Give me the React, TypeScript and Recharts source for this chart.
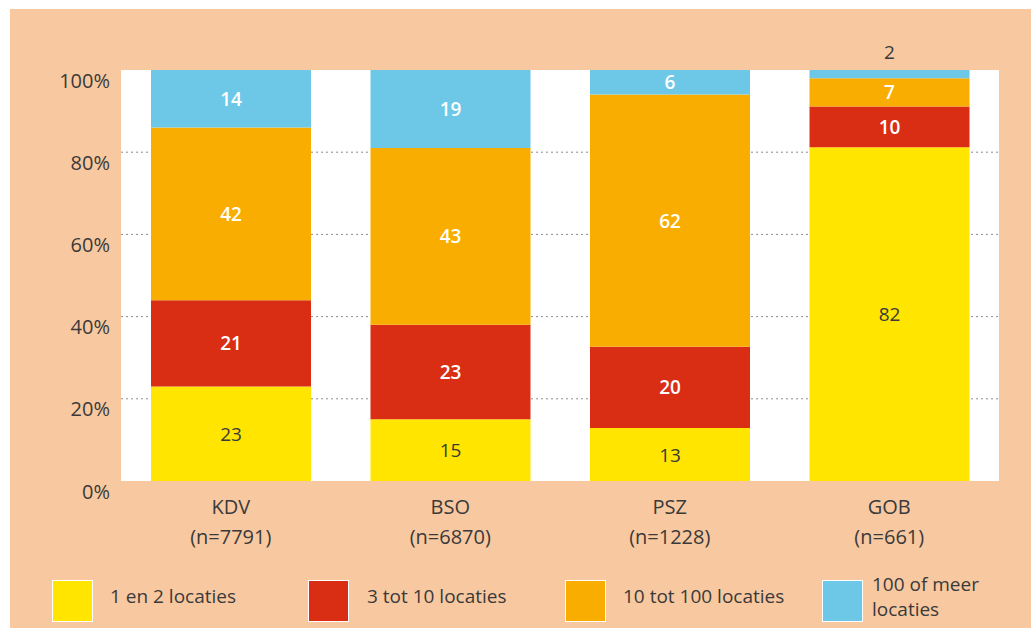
import React from 'react';
import { BarChart, Bar, XAxis, YAxis, CartesianGrid, LabelList } from 'recharts';

document.body.style.margin = '0';

const categories = ['KDV', 'BSO', 'PSZ', 'GOB'];
const sampleSizes = [7791, 6870, 1228, 661];
const oneTwo = [23, 15, 13, 82];
const threeToTen = [21, 23, 20, 10];
const tenToHundred = [42, 43, 62, 7];
const hundredPlus = [14, 19, 6, 2];
const yTicks = [0, 0.2, 0.4, 0.6, 0.8, 1];
const gridValues = [0.2, 0.4, 0.6, 0.8];

const series = [
  { key: 'oneTwo', name: '1 en 2 locaties', color: '#FFE500', text: '#3a3a3a' },
  { key: 'threeToTen', name: '3 tot 10 locaties', color: '#D92E14', text: '#ffffff' },
  { key: 'tenToHundred', name: '10 tot 100 locaties', color: '#F9AD00', text: '#ffffff' },
  { key: 'hundredPlus', name: '100 of meer\nlocaties', color: '#6DC8E7', text: '#ffffff' },
];

const data = categories.map((name, i) => ({
  name,
  oneTwo: oneTwo[i],
  threeToTen: threeToTen[i],
  tenToHundred: tenToHundred[i],
  hundredPlus: hundredPlus[i],
}));

const FONT = '"Open Sans", sans-serif';
const PEACH = '#F8C8A0';
const INK = '#3a3a3a';

const makeLabel = (color: string) => (props: any) => {
  const { x, y, width, height, value } = props;
  const cx = x + width / 2;
  if (height < 16) {
    // tiny segment: value goes above the bar
    return (
      <text x={cx} y={y - 18} textAnchor="middle" dominantBaseline="central" fill={INK} fontSize={19} fontFamily={FONT}>
        {value}
      </text>
    );
  }
  return (
    <text
      x={cx}
      y={y + height / 2}
      textAnchor="middle"
      dominantBaseline="central"
      fill={color}
      fontSize={19}
      fontFamily={FONT}
      fontWeight={color === '#ffffff' ? 600 : 400}
    >
      {value}
    </text>
  );
};

const YTick = (props: any) => {
  const { x, y, payload } = props;
  return (
    <text x={x} y={y} dy={10} textAnchor="end" dominantBaseline="central" fill={INK} fontSize={20} fontFamily={FONT}>
      {`${Math.round(payload.value * 100)}%`}
    </text>
  );
};

const XTick = (props: any) => {
  const { x, y, payload, index } = props;
  return (
    <g>
      <text x={x} y={y} dy={17} textAnchor="middle" dominantBaseline="central" fill={INK} fontSize={20} fontFamily={FONT}>
        {payload.value}
      </text>
      <text x={x} y={y} dy={47} textAnchor="middle" dominantBaseline="central" fill={INK} fontSize={20} fontFamily={FONT}>
        {`(n=${sampleSizes[index]})`}
      </text>
    </g>
  );
};

const legendSquareLeft = [52, 308, 565, 822];
const legendTextLeft = [110, 367, 623, 872];

export default function App() {
  return (
    <div style={{ position: 'relative', width: 1031, height: 628, background: '#fff', overflow: 'hidden', fontFamily: FONT }}>
      <div style={{ position: 'absolute', left: 10, top: 9, right: 0, bottom: 0, background: PEACH }} />
      <div style={{ position: 'absolute', left: 0, top: 0 }}>
        <BarChart
          width={1031}
          height={628}
          data={data}
          stackOffset="expand"
          margin={{ top: 70, right: 32, left: 61, bottom: 77 }}
        >
          <CartesianGrid
            vertical={false}
            fill="#ffffff"
            fillOpacity={1}
            stroke="#8c8c8c"
            strokeDasharray="2 3"
            horizontalValues={gridValues}
          />
          <XAxis dataKey="name" axisLine={false} tickLine={false} height={70} tick={<XTick />} interval={0} />
          <YAxis
            width={60}
            domain={[0, 1]}
            ticks={yTicks}
            axisLine={false}
            tickLine={false}
            tickSize={0}
            tickMargin={11}
            tick={<YTick />}
          />
          {series.map((s) => (
            <Bar key={s.key} dataKey={s.key} name={s.name} stackId="a" fill={s.color} barSize={160} isAnimationActive={false}>
              <LabelList dataKey={s.key} content={makeLabel(s.text)} />
            </Bar>
          ))}
        </BarChart>
      </div>
      {series.map((s, i) => (
        <React.Fragment key={s.key}>
          <div
            style={{
              position: 'absolute',
              left: legendSquareLeft[i],
              top: 580,
              width: 39,
              height: 40,
              background: s.color,
              border: '1.5px solid #fff',
            }}
          />
          <div
            style={{
              position: 'absolute',
              left: legendTextLeft[i],
              top: s.name.includes('\n') ? 572 : 584,
              fontSize: 19,
              lineHeight: '25px',
              color: INK,
              whiteSpace: 'pre',
            }}
          >
            {s.name}
          </div>
        </React.Fragment>
      ))}
    </div>
  );
}
